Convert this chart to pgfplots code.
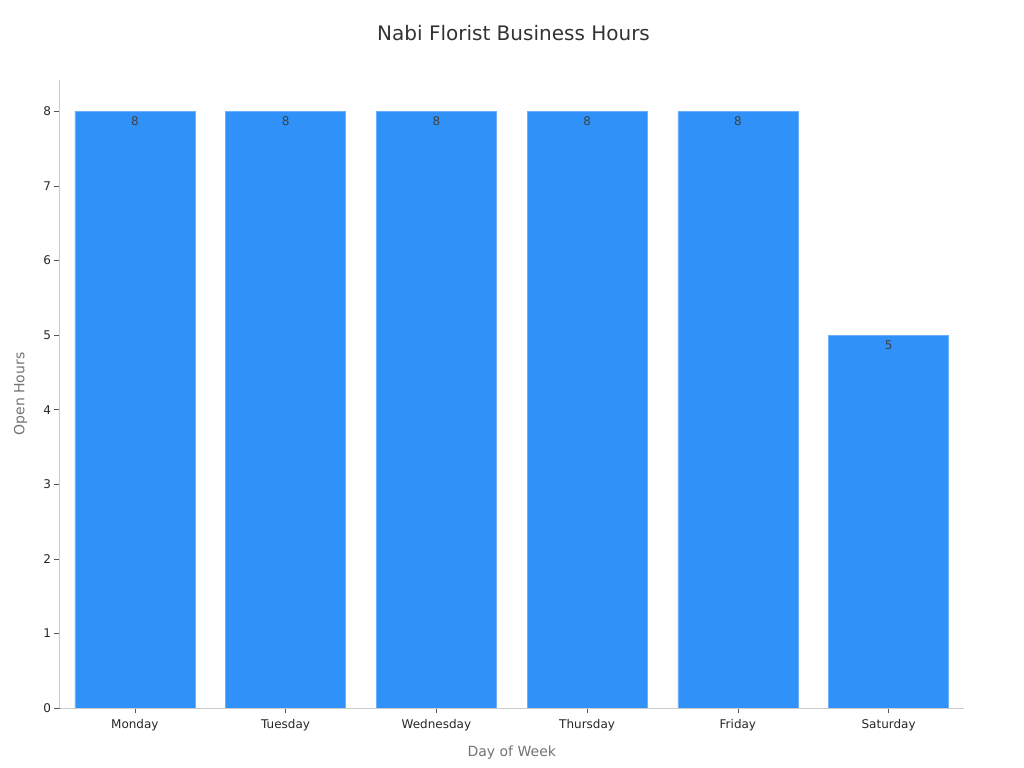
\documentclass[border=0pt]{standalone}
\usepackage{pgfplots}
\pgfplotsset{compat=1.18}
\usepackage{fontspec}
\setmainfont{DejaVu Sans}
\definecolor{barblue}{HTML}{3092F8}
\definecolor{baredge}{HTML}{6AB0FA}
\definecolor{spine}{HTML}{CCCCCC}
\definecolor{tickgray}{HTML}{555555}
\begin{document}
\begin{tikzpicture}
\useasboundingbox (0,0) rectangle (1024bp,768bp);
\begin{axis}[
    at={(59.5bp,60bp)}, anchor=south west,
    scale only axis,
    width=904.5bp, height=628bp,
    xmin=-0.5, xmax=5.5,
    ymin=0, ymax=8.42,
    axis x line*=bottom,
    axis y line*=left,
    axis line style={draw=spine, line width=0.8bp, -},
    tick align=outside,
    major tick length=5bp,
    tick style={draw=tickgray, line width=0.6bp},
    xtick={0,1,2,3,4,5},
    xticklabels={Monday,Tuesday,Wednesday,Thursday,Friday,Saturday},
    xticklabel style={yshift=-3bp},
    ytick={0,1,2,3,4,5,6,7,8},
    ticklabel style={font=\fontsize{12bp}{14bp}\selectfont, text=black!85},
    /pgf/number format/assume math mode=true,
    title={Nabi Florist Business Hours},
    title style={at={(axis description cs:0.502,1.0652)}, anchor=center,
        font=\fontsize{20bp}{24bp}\selectfont, text=black!80},
    xlabel={Day of Week},
    xlabel style={at={(axis description cs:0.5,-0.0717)}, anchor=center,
        font=\fontsize{14bp}{17bp}\selectfont, text=black!55},
    ylabel={Open Hours},
    ylabel style={at={(axis description cs:-0.0431,0.5)}, anchor=center, rotate=0,
        font=\fontsize{14bp}{17bp}\selectfont, text=black!55},
    ybar,
    bar width=120bp,
    nodes near coords,
    every node near coord/.append style={anchor=north, yshift=-2bp,
        font=\fontsize{12bp}{14bp}\selectfont, text=black!75},
]
\addplot[fill=barblue, draw=baredge, line width=0.6bp]
    coordinates {(0,8) (1,8) (2,8) (3,8) (4,8) (5,5)};
\end{axis}
\end{tikzpicture}
\end{document}
